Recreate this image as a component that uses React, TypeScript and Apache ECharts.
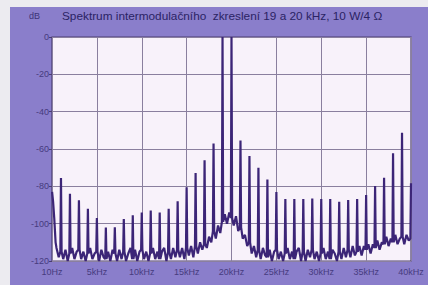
import React, { useEffect, useRef } from "react";
import * as echarts from "echarts";

// Frequency axis ticks (kHz) and level ticks (dB)
const xTicksKHz = [0, 5, 10, 15, 20, 25, 30, 35, 40];
const xTickLabels = ["10Hz", "5kHz", "10kHz", "15kHz", "20kHz", "25kHz", "30kHz", "35kHz", "40kHz"];
const yTicks = [0, -20, -40, -60, -80, -100, -120];

// Low-frequency edge of the trace (kHz, dB)
const lowEdgeKHz = [0.01, 0.12, 0.25, 0.4];
const lowEdgeDb = [-83, -88, -97, -110];

// Noise floor sampled every 0.25 kHz from 0.5 kHz to 40 kHz (dB)
const noiseStartKHz = 0.5;
const noiseStepKHz = 0.25;
const noiseFloorDb = [
  -113, -118,
  -115, -119, -114, -120,
  -116, -113, -119, -115,
  -114, -119, -115, -120,
  -116, -113, -119, -116,
  -115, -120, -114, -118,
  -119, -115, -120, -114,
  -116, -120, -114, -119,
  -115, -120, -116, -113,
  -119, -114, -120, -115,
  -114, -119, -115, -120,
  -116, -113, -119, -115,
  -119, -115, -113, -120,
  -115, -119, -113, -118,
  -114, -118, -113, -119,
  -113, -117, -112, -118,
  -112, -116, -110, -114,
  -111, -113, -107, -110,
  -104, -108, -101, -105,
  -99, -95, -100, -94,
  -97, -101, -96, -104,
  -102, -108, -106, -112,
  -110, -116, -112, -118,
  -114, -119, -113, -117,
  -118, -114, -120, -115,
  -114, -119, -115, -120,
  -116, -113, -119, -115,
  -119, -115, -113, -120,
  -115, -120, -114, -118,
  -114, -119, -115, -120,
  -116, -113, -119, -115,
  -119, -114, -116, -120,
  -115, -119, -113, -118,
  -114, -118, -112, -117,
  -115, -112, -117, -112,
  -114, -111, -116, -111,
  -113, -109, -114, -110,
  -111, -107, -112, -108,
  -110, -106, -111, -108,
  -107, -111, -106, -109,
  -108,
];

// Intermodulation / harmonic spectral lines, every 1 kHz (kHz, dB)
const spikeKHz = [
  1, 2, 3, 4, 5, 6, 7, 8, 9, 10,
  11, 12, 13, 14, 15, 16, 17, 18, 19, 20,
  21, 22, 23, 24, 25, 26, 27, 28, 29, 30,
  31, 32, 33, 34, 35, 36, 37, 38, 39, 40,
];
const spikeDb = [
  -75.5, -84, -87.5, -92, -97, -102, -102, -97.5, -95.5, -94,
  -93, -94, -92, -88, -80.5, -72.8, -66, -57, 0, 0,
  -55.5, -63.8, -70, -76.3, -83, -86.8, -86.8, -86.8, -86.5, -86.8,
  -86.8, -88.2, -87.3, -86.8, -84.6, -79.8, -75.4, -62.3, -51.3, -78.4,
];

const title = "Spektrum intermodulačního  zkreslení 19 a 20 kHz, 10 W/4 Ω";

function buildTrace(): number[][] {
  const pts: number[][] = [];
  for (let i = 0; i < lowEdgeKHz.length; i++) pts.push([lowEdgeKHz[i], lowEdgeDb[i]]);
  const half = 0.07;
  for (let i = 0; i < noiseFloorDb.length; i++) {
    const f = noiseStartKHz + i * noiseStepKHz;
    const k = spikeKHz.indexOf(f);
    if (k >= 0) {
      pts.push([f - half, noiseFloorDb[i]]);
      pts.push([f, spikeDb[k]]);
      if (f + half <= 40) pts.push([f + half, noiseFloorDb[i]]);
    } else {
      pts.push([f, noiseFloorDb[i]]);
    }
  }
  return pts;
}

export default function App() {
  const ref = useRef<HTMLDivElement>(null);
  useEffect(() => {
    if (!ref.current) return;
    const chart = echarts.init(ref.current, undefined, { renderer: "svg" });
    const labelColor = "#463b7e";
    chart.setOption({
      animation: false,
      backgroundColor: "#ecebf0",
      textStyle: { fontFamily: "Liberation Sans" },
      graphic: [
        {
          type: "rect",
          z: -10,
          silent: true,
          shape: { x: 10, y: 7, width: 418, height: 278 },
          style: { fill: "#8a7ecb" },
        },
        {
          type: "text",
          x: 29,
          y: 16,
          style: {
            text: "dB",
            fill: "#3d3478",
            font: "9px 'Liberation Sans'",
            verticalAlign: "middle",
          },
        },
        {
          type: "text",
          x: 62,
          y: 16,
          style: {
            text: title,
            fill: "#2a2364",
            font: "11.8px 'Liberation Sans'",
            verticalAlign: "middle",
          },
        },
      ],
      grid: {
        left: 52,
        right: 17,
        top: 37,
        bottom: 24,
        show: true,
        backgroundColor: "#f8f2fa",
        borderColor: "#4a3c70",
        borderWidth: 1.2,
      },
      xAxis: {
        type: "value",
        min: 0,
        max: 40,
        interval: 5,
        axisLine: { show: false },
        axisTick: { show: false },
        splitLine: { show: true, lineStyle: { color: "#8a7f9e", width: 1 } },
        axisLabel: {
          color: labelColor,
          fontSize: 9,
          margin: 6,
          formatter: (v: number) => {
            const i = xTicksKHz.indexOf(v);
            return i >= 0 ? xTickLabels[i] : "";
          },
        },
      },
      yAxis: {
        type: "value",
        min: -120,
        max: 0,
        interval: 20,
        axisLine: { show: false },
        axisTick: { show: true, length: 3, lineStyle: { color: "#4a3c70" } },
        splitLine: { show: true, lineStyle: { color: "#8a7f9e", width: 1 } },
        axisLabel: {
          color: labelColor,
          fontSize: 9,
          margin: 3,
          formatter: (v: number) => (yTicks.indexOf(v) >= 0 ? String(v) : ""),
        },
      },
      series: [
        {
          type: "line",
          data: buildTrace(),
          showSymbol: false,
          symbol: "none",
          clip: true,
          lineStyle: { color: "#3c2577", width: 2.2 },
        },
      ],
    });
    return () => chart.dispose();
  }, []);
  return (
    <div
      ref={ref}
      style={{ position: "absolute", left: 0, top: 0, width: 428, height: 285 }}
    />
  );
}
